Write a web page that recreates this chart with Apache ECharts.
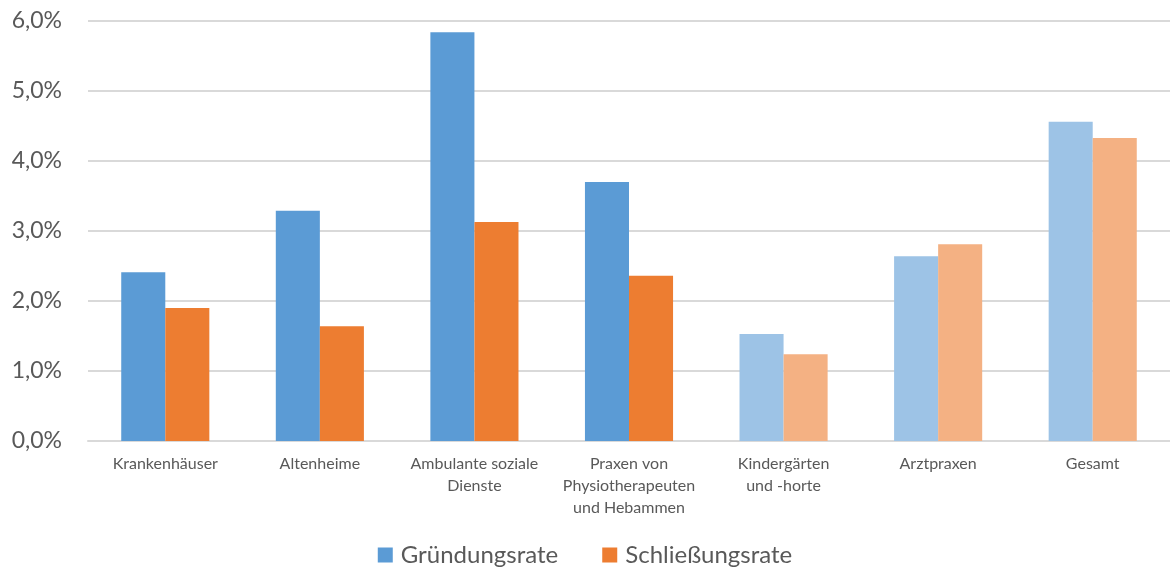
<!DOCTYPE html>
<html>
<head>
<meta charset="utf-8">
<script src="https://cdn.jsdelivr.net/npm/echarts@6/dist/echarts.min.js"></script>
<style>
    html, body { margin: 0; padding: 0; background: #fff; overflow: hidden; }
    #chart { width: 1170px; height: 572px; }
</style>
</head>
<body>
<div id="chart"></div>
<script>
// categories (x axis)
var categories = ['Krankenhäuser', 'Altenheime', 'Ambulante soziale\nDienste',
    'Praxen von\nPhysiotherapeuten\nund Hebammen', 'Kindergärten\nund -horte', 'Arztpraxen', 'Gesamt'];
// values in %
var gruendungsrate = [2.41, 3.29, 5.84, 3.70, 1.53, 2.64, 4.56];
var schliessungsrate = [1.90, 1.64, 3.13, 2.36, 1.24, 2.81, 4.33];
// categories drawn in the lighter shade
var paleCategories = ['Kindergärten\nund -horte', 'Arztpraxen', 'Gesamt'];
var yTicks = [0, 1, 2, 3, 4, 5, 6];

var font = 'Lato, "Open Sans", sans-serif';

function buildData(values, color, paleColor) {
    return values.map(function (v, i) {
        var pale = paleCategories.indexOf(categories[i]) >= 0;
        return { value: v, itemStyle: { color: pale ? paleColor : color } };
    });
}

var chart = echarts.init(document.getElementById('chart'));
var option = {
    animation: false,
    textStyle: { fontFamily: font },
    grid: { left: 88, width: 1086, top: 21, bottom: 131, containLabel: false },
    legend: {
        bottom: 0,
        left: 'center',
        itemWidth: 15,
        itemHeight: 15,
        itemGap: 44,
        icon: 'rect',
        textStyle: { fontSize: 24, color: '#595959', fontFamily: font, padding: [0, 0, 0, 3] },
        data: [
            { name: 'Gründungsrate', itemStyle: { color: '#5B9BD5' } },
            { name: 'Schließungsrate', itemStyle: { color: '#ED7D31' } }
        ]
    },
    xAxis: {
        type: 'category',
        data: categories,
        axisTick: { show: false },
        axisLine: { lineStyle: { color: '#D9D9D9', width: 2 } },
        axisLabel: {
            color: '#595959',
            fontSize: 16,
            lineHeight: 22,
            margin: 12,
            interval: 0,
            fontFamily: font
        }
    },
    yAxis: {
        type: 'value',
        min: yTicks[0],
        max: yTicks[yTicks.length - 1],
        interval: 1,
        axisLine: { show: false },
        axisTick: { show: false },
        splitLine: { lineStyle: { color: '#D9D9D9', width: 2 } },
        axisLabel: {
            color: '#595959',
            fontSize: 23,
            margin: 26,
            fontFamily: font,
            formatter: function (v) { return v.toFixed(1).replace('.', ',') + '%'; }
        }
    },
    series: [
        {
            name: 'Gründungsrate',
            type: 'bar',
            barGap: '0%',
            barCategoryGap: '43%',
            itemStyle: { color: '#5B9BD5' },
            data: buildData(gruendungsrate, '#5B9BD5', '#9DC3E6')
        },
        {
            name: 'Schließungsrate',
            type: 'bar',
            itemStyle: { color: '#ED7D31' },
            data: buildData(schliessungsrate, '#ED7D31', '#F4B183')
        }
    ]
};
chart.setOption(option);
</script>
</body>
</html>
